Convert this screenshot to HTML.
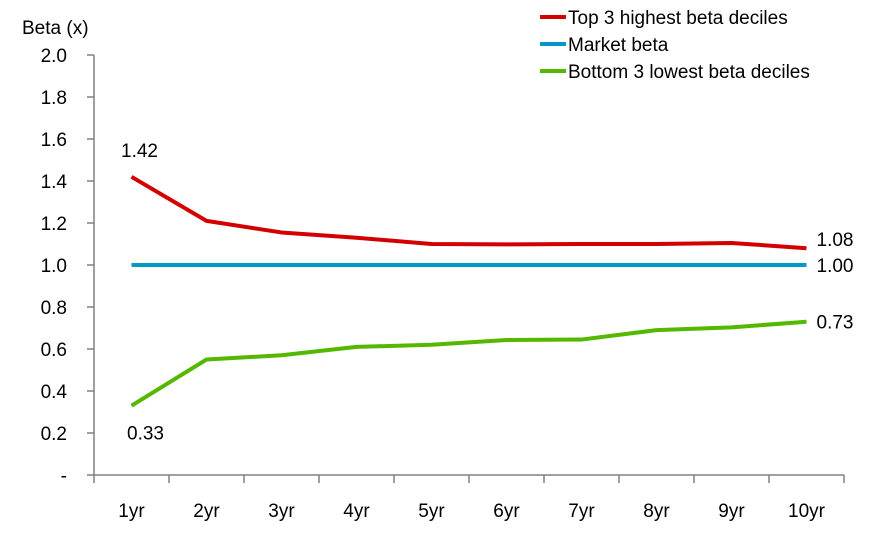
<!DOCTYPE html>
<html><head><meta charset="utf-8"><style>
body{margin:0;background:#fff;font-family:"Liberation Sans",sans-serif}
svg text{font-family:"Liberation Sans",sans-serif;font-size:19px;fill:#000}
</style></head><body>
<svg width="888" height="543">
<g id="axes"></g><g id="series"></g>
<g>
<line x1="540" y1="17" x2="566" y2="17" stroke="#d40000" stroke-width="4"/>
<text x="568" y="24">Top 3 highest beta deciles</text>
<line x1="540" y1="44" x2="566" y2="44" stroke="#0099c6" stroke-width="4"/>
<text x="568" y="51">Market beta</text>
<line x1="540" y1="71" x2="566" y2="71" stroke="#55b800" stroke-width="4"/>
<text x="568" y="78">Bottom 3 lowest beta deciles</text>
</g>
<text x="22" y="34">Beta (x)</text>
</svg>
<script>
const categories=["1yr","2yr","3yr","4yr","5yr","6yr","7yr","8yr","9yr","10yr"];
const topBeta=[1.42,1.21,1.155,1.13,1.10,1.098,1.10,1.10,1.105,1.08];
const marketBeta=[1,1,1,1,1,1,1,1,1,1];
const bottomBeta=[0.33,0.55,0.57,0.61,0.62,0.643,0.645,0.69,0.703,0.73];
const yTicks=[0,0.2,0.4,0.6,0.8,1.0,1.2,1.4,1.6,1.8,2.0];
const yTickLabels=["-","0.2","0.4","0.6","0.8","1.0","1.2","1.4","1.6","1.8","2.0"];
const ns="http://www.w3.org/2000/svg";
const X0=94,STEP=75,Y0=475,YS=210;
const xc=i=>X0+STEP*(i+0.5), yv=v=>Y0-v*YS;
function mk(t,a,p){const e=document.createElementNS(ns,t);for(const k in a)e.setAttribute(k,a[k]);p.appendChild(e);return e;}
const ax=document.getElementById('axes');
let l=mk('line',{x1:X0,y1:yv(2),x2:X0,y2:Y0,stroke:'#808080','stroke-width':1.5},ax);


l=mk('line',{x1:X0,y1:Y0,x2:X0+STEP*categories.length,y2:Y0,stroke:'#808080','stroke-width':1.5},ax);


yTicks.forEach((v,i)=>{
 mk('line',{x1:X0-7,y1:yv(v),x2:X0,y2:yv(v),stroke:'#808080','stroke-width':1.5},ax);
 const t=mk('text',{x:67,y:yv(v)+7,'text-anchor':'end'},ax);t.textContent=yTickLabels[i];
 
 
});
for(let i=0;i<=categories.length;i++)mk('line',{x1:X0+STEP*i,y1:Y0,x2:X0+STEP*i,y2:Y0+8,stroke:'#808080','stroke-width':1.5},ax);
categories.forEach((c,i)=>{const t=mk('text',{x:xc(i),y:517,'text-anchor':'middle'},ax);t.textContent=c;
 
 });
const sg=document.getElementById('series');
function line(d,col,name){const p=mk('polyline',{points:d.map((v,i)=>xc(i)+','+yv(v)).join(' '),fill:'none',stroke:col,'stroke-width':4,'stroke-linejoin':'round'},sg);
 
 }
line(topBeta,'#d40000','top3-line');line(marketBeta,'#0099c6','market-line');line(bottomBeta,'#55b800','bottom3-line');
function lab(txt,x,y,a){const t=mk('text',{x:x,y:y,'text-anchor':a||'middle'},sg);t.textContent=txt;
 
 }
const n=categories.length-1;
lab(topBeta[0].toFixed(2),xc(0)+8,yv(topBeta[0])-20);
lab(bottomBeta[0].toFixed(2),xc(0)+14,yv(bottomBeta[0])+34);
lab(topBeta[n].toFixed(2),xc(n)+10,yv(topBeta[n])-2,'start');
lab(marketBeta[n].toFixed(2),xc(n)+10,yv(marketBeta[n])+7,'start');
lab(bottomBeta[n].toFixed(2),xc(n)+10,yv(bottomBeta[n])+7,'start');
</script>
</body></html>
